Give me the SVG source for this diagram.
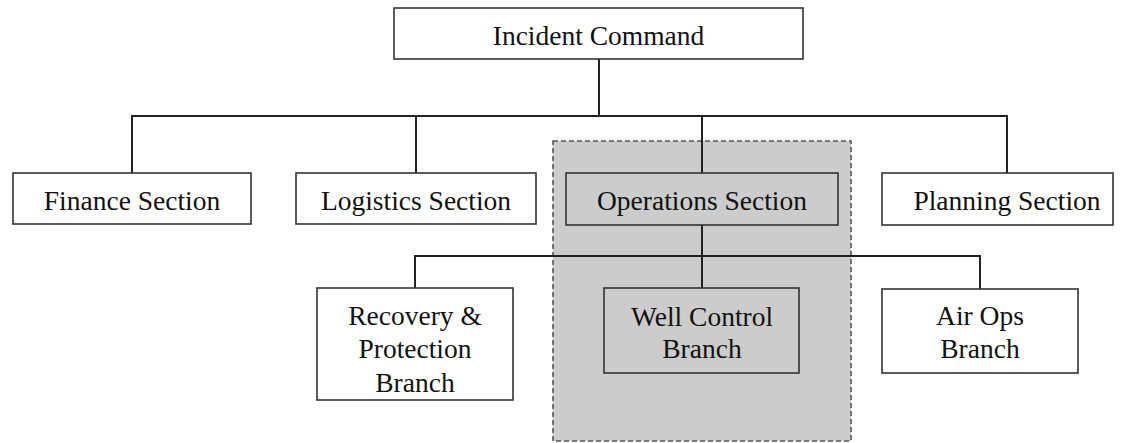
<svg xmlns="http://www.w3.org/2000/svg" width="1121" height="443" viewBox="0 0 1121 443">
<style>
.box{fill:#ffffff;stroke:#333333;stroke-width:1.6}
.gbox{fill:#cccccc;stroke:#333333;stroke-width:1.6}
.lbl{font-family:"Liberation Serif","Times New Roman",serif;font-size:27.5px;fill:#111111;text-anchor:middle}
.conn{fill:none;stroke:#222222;stroke-width:2}
</style>
<rect id="operations-group" x="553" y="141" width="298" height="300" fill="#cccccc" stroke="#555555" stroke-width="1.6" stroke-dasharray="5,3"/>
<g id="connectors">
<line class="conn" x1="599" y1="59" x2="599" y2="116" stroke-width="3.2"/>
<polyline class="conn" points="132,173 132,116 1007,116 1007,173"/>
<line class="conn" x1="416" y1="116" x2="416" y2="173"/>
<line class="conn" x1="702" y1="116" x2="702" y2="173"/>
<line class="conn" x1="702" y1="225" x2="702" y2="288"/>
<polyline class="conn" points="415,288 415,256 980,256 980,289"/>
</g>
<g id="incident-command">
<rect class="box" x="394" y="8" width="409" height="51"/>
<text class="lbl" x="598.5" y="45">Incident Command</text>
</g>
<g id="finance-section">
<rect class="box" x="13" y="173" width="238" height="51"/>
<text class="lbl" x="132" y="210">Finance Section</text>
</g>
<g id="logistics-section">
<rect class="box" x="296" y="173" width="240" height="51"/>
<text class="lbl" x="416" y="210">Logistics Section</text>
</g>
<g id="operations-section">
<rect class="gbox" x="566" y="173" width="272" height="52"/>
<text class="lbl" x="702" y="210">Operations Section</text>
</g>
<g id="planning-section">
<rect class="box" x="882" y="173" width="231" height="52"/>
<text class="lbl" x="1007" y="210">Planning Section</text>
</g>
<g id="recovery-branch">
<rect class="box" x="317" y="288" width="196" height="112"/>
<text class="lbl" x="415" y="325">Recovery &amp;</text>
<text class="lbl" x="415" y="358">Protection</text>
<text class="lbl" x="415" y="392">Branch</text>
</g>
<g id="well-control-branch">
<rect class="gbox" x="604" y="288" width="195" height="85"/>
<text class="lbl" x="702" y="326">Well Control</text>
<text class="lbl" x="702" y="358">Branch</text>
</g>
<g id="air-ops-branch">
<rect class="box" x="882" y="289" width="196" height="84"/>
<text class="lbl" x="980" y="325">Air Ops</text>
<text class="lbl" x="980" y="358">Branch</text>
</g>
</svg>
